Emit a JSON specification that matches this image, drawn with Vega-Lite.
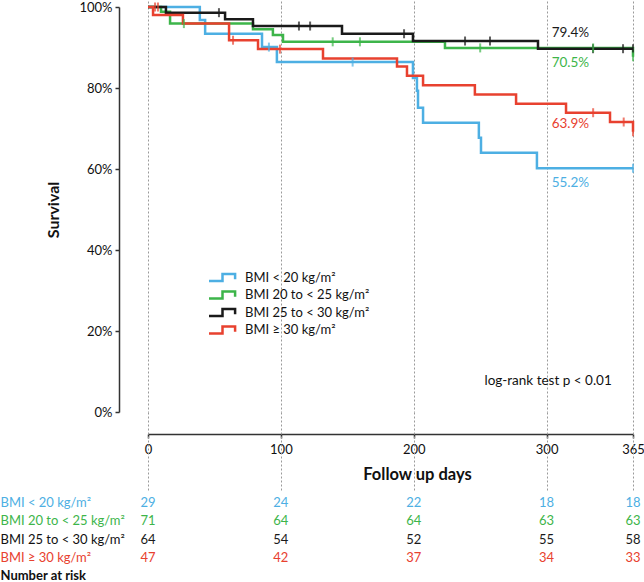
{
  "$schema": "https://vega.github.io/schema/vega-lite/v6.json",
  "padding": 0,
  "spacing": 2,
  "align": "each",
  "bounds": "full",
  "config": {
    "font": "Lato",
    "view": {"stroke": null},
    "axis": {"labelColor": "#111", "titleColor": "#111", "labelFont": "Lato", "titleFont": "Lato"},
    "text": {"font": "Lato"}
  },
  "datasets": {
    "curves": [
      {"group": "BMI < 20 kg/m²", "day": 0, "s": 1.0},
      {"group": "BMI < 20 kg/m²", "day": 39, "s": 0.968},
      {"group": "BMI < 20 kg/m²", "day": 43, "s": 0.934},
      {"group": "BMI < 20 kg/m²", "day": 85.8, "s": 0.901},
      {"group": "BMI < 20 kg/m²", "day": 97, "s": 0.864},
      {"group": "BMI < 20 kg/m²", "day": 199.4, "s": 0.825},
      {"group": "BMI < 20 kg/m²", "day": 202.4, "s": 0.793},
      {"group": "BMI < 20 kg/m²", "day": 203.2, "s": 0.751},
      {"group": "BMI < 20 kg/m²", "day": 207, "s": 0.714},
      {"group": "BMI < 20 kg/m²", "day": 249, "s": 0.677},
      {"group": "BMI < 20 kg/m²", "day": 250.6, "s": 0.64},
      {"group": "BMI < 20 kg/m²", "day": 292.7, "s": 0.602},
      {"group": "BMI < 20 kg/m²", "day": 365, "s": 0.602},
      {"group": "BMI 20 to < 25 kg/m²", "day": 0, "s": 1.0},
      {"group": "BMI 20 to < 25 kg/m²", "day": 9.8, "s": 0.988},
      {"group": "BMI 20 to < 25 kg/m²", "day": 16.6, "s": 0.959},
      {"group": "BMI 20 to < 25 kg/m²", "day": 79, "s": 0.945},
      {"group": "BMI 20 to < 25 kg/m²", "day": 94, "s": 0.931},
      {"group": "BMI 20 to < 25 kg/m²", "day": 101.6, "s": 0.914},
      {"group": "BMI 20 to < 25 kg/m²", "day": 223.5, "s": 0.899},
      {"group": "BMI 20 to < 25 kg/m²", "day": 365, "s": 0.899},
      {"group": "BMI 20 to < 25 kg/m²", "day": 365, "s": 0.877},
      {"group": "BMI 25 to < 30 kg/m²", "day": 0, "s": 1.0},
      {"group": "BMI 25 to < 30 kg/m²", "day": 13.5, "s": 0.986},
      {"group": "BMI 25 to < 30 kg/m²", "day": 58, "s": 0.97},
      {"group": "BMI 25 to < 30 kg/m²", "day": 79, "s": 0.953},
      {"group": "BMI 25 to < 30 kg/m²", "day": 146, "s": 0.934},
      {"group": "BMI 25 to < 30 kg/m²", "day": 199.4, "s": 0.916},
      {"group": "BMI 25 to < 30 kg/m²", "day": 293.5, "s": 0.897},
      {"group": "BMI 25 to < 30 kg/m²", "day": 365, "s": 0.897},
      {"group": "BMI ≥ 30 kg/m²", "day": 0, "s": 1.0},
      {"group": "BMI ≥ 30 kg/m²", "day": 3.8, "s": 0.98},
      {"group": "BMI ≥ 30 kg/m²", "day": 26.3, "s": 0.959},
      {"group": "BMI ≥ 30 kg/m²", "day": 61, "s": 0.918},
      {"group": "BMI ≥ 30 kg/m²", "day": 82.8, "s": 0.896},
      {"group": "BMI ≥ 30 kg/m²", "day": 131.7, "s": 0.873},
      {"group": "BMI ≥ 30 kg/m²", "day": 187.4, "s": 0.853},
      {"group": "BMI ≥ 30 kg/m²", "day": 194.9, "s": 0.83},
      {"group": "BMI ≥ 30 kg/m²", "day": 207, "s": 0.807},
      {"group": "BMI ≥ 30 kg/m²", "day": 246, "s": 0.784},
      {"group": "BMI ≥ 30 kg/m²", "day": 277, "s": 0.761},
      {"group": "BMI ≥ 30 kg/m²", "day": 314.6, "s": 0.739},
      {"group": "BMI ≥ 30 kg/m²", "day": 347.7, "s": 0.716},
      {"group": "BMI ≥ 30 kg/m²", "day": 365, "s": 0.716},
      {"group": "BMI ≥ 30 kg/m²", "day": 365, "s": 0.692}
    ],
    "censor": [
      {"group": "BMI 25 to < 30 kg/m²", "day": 53.4, "s": 0.986},
      {"group": "BMI 25 to < 30 kg/m²", "day": 113.6, "s": 0.953},
      {"group": "BMI 25 to < 30 kg/m²", "day": 122, "s": 0.953},
      {"group": "BMI 25 to < 30 kg/m²", "day": 192.7, "s": 0.934},
      {"group": "BMI 25 to < 30 kg/m²", "day": 238.6, "s": 0.916},
      {"group": "BMI 25 to < 30 kg/m²", "day": 257.4, "s": 0.916},
      {"group": "BMI 25 to < 30 kg/m²", "day": 334.9, "s": 0.897},
      {"group": "BMI 25 to < 30 kg/m²", "day": 357.5, "s": 0.897},
      {"group": "BMI 25 to < 30 kg/m²", "day": 365, "s": 0.897},
      {"group": "BMI 20 to < 25 kg/m²", "day": 27, "s": 0.959},
      {"group": "BMI 20 to < 25 kg/m²", "day": 139, "s": 0.914},
      {"group": "BMI 20 to < 25 kg/m²", "day": 159.5, "s": 0.914},
      {"group": "BMI 20 to < 25 kg/m²", "day": 250, "s": 0.899},
      {"group": "BMI 20 to < 25 kg/m²", "day": 335, "s": 0.899},
      {"group": "BMI 20 to < 25 kg/m²", "day": 365, "s": 0.877},
      {"group": "BMI ≥ 30 kg/m²", "day": 5.3, "s": 1.0},
      {"group": "BMI ≥ 30 kg/m²", "day": 7.5, "s": 1.0},
      {"group": "BMI ≥ 30 kg/m²", "day": 64, "s": 0.918},
      {"group": "BMI ≥ 30 kg/m²", "day": 99.3, "s": 0.896},
      {"group": "BMI ≥ 30 kg/m²", "day": 335, "s": 0.739},
      {"group": "BMI ≥ 30 kg/m²", "day": 358, "s": 0.716},
      {"group": "BMI ≥ 30 kg/m²", "day": 365, "s": 0.692},
      {"group": "BMI < 20 kg/m²", "day": 91, "s": 0.901},
      {"group": "BMI < 20 kg/m²", "day": 154, "s": 0.864},
      {"group": "BMI < 20 kg/m²", "day": 365, "s": 0.602}
    ],
    "labels": [
      {"group": "BMI 25 to < 30 kg/m²", "day": 300, "s": 0.936, "label": "79.4%"},
      {"group": "BMI 20 to < 25 kg/m²", "day": 300, "s": 0.862, "label": "70.5%"},
      {"group": "BMI ≥ 30 kg/m²", "day": 300, "s": 0.711, "label": "63.9%"},
      {"group": "BMI < 20 kg/m²", "day": 300, "s": 0.565, "label": "55.2%"}
    ],
    "risk": [
      {"group": "BMI < 20 kg/m²", "day": 0, "n": 29},
      {"group": "BMI < 20 kg/m²", "day": 100, "n": 24},
      {"group": "BMI < 20 kg/m²", "day": 200, "n": 22},
      {"group": "BMI < 20 kg/m²", "day": 300, "n": 18},
      {"group": "BMI < 20 kg/m²", "day": 365, "n": 18},
      {"group": "BMI 20 to < 25 kg/m²", "day": 0, "n": 71},
      {"group": "BMI 20 to < 25 kg/m²", "day": 100, "n": 64},
      {"group": "BMI 20 to < 25 kg/m²", "day": 200, "n": 64},
      {"group": "BMI 20 to < 25 kg/m²", "day": 300, "n": 63},
      {"group": "BMI 20 to < 25 kg/m²", "day": 365, "n": 63},
      {"group": "BMI 25 to < 30 kg/m²", "day": 0, "n": 64},
      {"group": "BMI 25 to < 30 kg/m²", "day": 100, "n": 54},
      {"group": "BMI 25 to < 30 kg/m²", "day": 200, "n": 52},
      {"group": "BMI 25 to < 30 kg/m²", "day": 300, "n": 55},
      {"group": "BMI 25 to < 30 kg/m²", "day": 365, "n": 58},
      {"group": "BMI ≥ 30 kg/m²", "day": 0, "n": 47},
      {"group": "BMI ≥ 30 kg/m²", "day": 100, "n": 42},
      {"group": "BMI ≥ 30 kg/m²", "day": 200, "n": 37},
      {"group": "BMI ≥ 30 kg/m²", "day": 300, "n": 34},
      {"group": "BMI ≥ 30 kg/m²", "day": 365, "n": 33}
    ]
  },
  "vconcat": [
    {
      "width": 485,
      "height": 405,
      "resolve": {"axis": {"x": "independent"}, "legend": {"color": "independent"}},
      "layer": [
        {
          "data": {"name": "curves"},
          "mark": {"type": "line", "interpolate": "step-after", "strokeWidth": 2.5},
          "encoding": {
            "x": {"field": "day", "type": "quantitative",
              "scale": {"domain": [0, 365], "nice": false, "zero": false},
              "axis": {"orient": "bottom", "offset": 22, "values": [0, 100, 200, 300, 365],
                "domainColor": "#333", "domainWidth": 1.5, "tickColor": "#333", "tickWidth": 1.5, "tickSize": 4,
                "labelFontSize": 13, "labelPadding": 5, "labelFlush": false,
                "grid": true, "gridDash": [2, 2], "gridColor": "#9a9a9a", "gridWidth": 1,
                "title": "Follow up days", "titleFontSize": 16.5, "titleFontWeight": "bold",
                "titleX": 269, "titlePadding": 10}},
            "y": {"field": "s", "type": "quantitative",
              "scale": {"domain": [0, 1], "nice": false},
              "axis": {"orient": "left", "offset": 29, "values": [0, 0.2, 0.4, 0.6, 0.8, 1], "format": ".0%",
                "domainColor": "#333", "domainWidth": 1.5, "tickColor": "#333", "tickWidth": 1.5, "tickSize": 4,
                "labelFontSize": 13, "labelPadding": 3, "grid": false,
                "title": "Survival", "titleFontSize": 16, "titleFontWeight": "bold", "titlePadding": 17}},
            "color": {"field": "group", "type": "nominal",
              "scale": {"domain": ["BMI < 20 kg/m²", "BMI 20 to < 25 kg/m²", "BMI 25 to < 30 kg/m²", "BMI ≥ 30 kg/m²"],
                "range": ["#4DAFE3", "#3DB54A", "#1a1a1a", "#E8412F"]},
              "legend": {"orient": "none", "legendX": 68, "legendY": 264, "title": null, "padding": 0,
                "symbolType": "M-3,0.8H0V-0.8H2.8V0.4", "symbolSize": 81, "symbolStrokeWidth": 2.5,
                "symbolFillColor": "transparent",
                "labelFontSize": 13, "labelOffset": 16, "rowPadding": -1.5, "labelColor": "#111"}},
            "order": [{"field": "day", "type": "quantitative"}, {"field": "s", "type": "quantitative", "sort": "descending"}]
          }
        },
        {
          "data": {"name": "censor"},
          "mark": {"type": "tick", "orient": "vertical", "size": 9, "thickness": 2},
          "encoding": {
            "x": {"field": "day", "type": "quantitative",
              "axis": {"orient": "bottom", "offset": 0, "values": [0, 100, 200, 300, 365],
                "domain": false, "labels": false, "grid": false, "title": null,
                "ticks": true, "tickSize": 79, "tickDash": [2, 2], "tickColor": "#9a9a9a", "tickWidth": 1}},
            "y": {"field": "s", "type": "quantitative",
              "axis": {"orient": "left", "offset": 29, "values": [0, 0.2, 0.4, 0.6, 0.8, 1], "format": ".0%",
                "domainColor": "#333", "domainWidth": 1.5, "tickColor": "#333", "tickWidth": 1.5, "tickSize": 4,
                "labelFontSize": 13, "labelPadding": 3, "grid": false,
                "title": "Survival", "titleFontSize": 16, "titleFontWeight": "bold", "titlePadding": 17}},
            "color": {"field": "group", "type": "nominal", "legend": null}
          }
        },
        {
          "data": {"name": "labels"},
          "mark": {"type": "text", "align": "left", "dx": 5, "fontSize": 13.5},
          "encoding": {
            "x": {"field": "day", "type": "quantitative",
              "axis": {"orient": "top", "values": [0, 100, 200, 300, 365],
                "domain": false, "labels": false, "grid": false, "title": null,
                "ticks": true, "tickSize": 6, "tickDash": [2, 2], "tickColor": "#9a9a9a", "tickWidth": 1}},
            "y": {"field": "s", "type": "quantitative",
              "axis": {"orient": "left", "offset": 29, "values": [0, 0.2, 0.4, 0.6, 0.8, 1], "format": ".0%",
                "domainColor": "#333", "domainWidth": 1.5, "tickColor": "#333", "tickWidth": 1.5, "tickSize": 4,
                "labelFontSize": 13, "labelPadding": 3, "grid": false,
                "title": "Survival", "titleFontSize": 16, "titleFontWeight": "bold", "titlePadding": 17}},
            "text": {"field": "label"},
            "color": {"field": "group", "type": "nominal", "legend": null}
          }
        },
        {
          "data": {"values": [{"note": "log-rank test p < 0.01", "day": 349, "s": 0.077}]},
          "mark": {"type": "text", "align": "right", "fontSize": 13.5, "color": "#111"},
          "encoding": {
            "x": {"field": "day", "type": "quantitative", "axis": null},
            "y": {"field": "s", "type": "quantitative",
              "axis": {"orient": "left", "offset": 29, "values": [0, 0.2, 0.4, 0.6, 0.8, 1], "format": ".0%",
                "domainColor": "#333", "domainWidth": 1.5, "tickColor": "#333", "tickWidth": 1.5, "tickSize": 4,
                "labelFontSize": 13, "labelPadding": 3, "grid": false,
                "title": "Survival", "titleFontSize": 16, "titleFontWeight": "bold", "titlePadding": 17}},
            "text": {"field": "note"}
          }
        }
      ]
    },
    {
      "width": 485,
      "height": 91,
      "data": {"name": "risk"},
      "mark": {"type": "text", "fontSize": 13},
      "encoding": {
        "x": {"field": "day", "type": "quantitative", "scale": {"domain": [0, 365], "nice": false, "zero": false}, "axis": null},
        "y": {"field": "group", "type": "nominal",
          "scale": {"type": "band", "domain": ["BMI < 20 kg/m²", "BMI 20 to < 25 kg/m²", "BMI 25 to < 30 kg/m²", "BMI ≥ 30 kg/m²", "Number at risk"], "paddingInner": 0, "paddingOuter": 0},
          "axis": {"orient": "left", "domain": false, "ticks": false, "grid": false, "title": null,
            "labelAlign": "left", "labelPadding": 148, "labelFontSize": 13,
            "labelColor": {"condition": [
              {"test": "datum.value === 'BMI < 20 kg/m²'", "value": "#4DAFE3"},
              {"test": "datum.value === 'BMI 20 to < 25 kg/m²'", "value": "#3DB54A"},
              {"test": "datum.value === 'BMI ≥ 30 kg/m²'", "value": "#E8412F"}
            ], "value": "#111"},
            "labelFontWeight": {"condition": {"test": "datum.value === 'Number at risk'", "value": "bold"}, "value": "normal"}}},
        "text": {"field": "n"},
        "color": {"field": "group", "type": "nominal",
          "scale": {"domain": ["BMI < 20 kg/m²", "BMI 20 to < 25 kg/m²", "BMI 25 to < 30 kg/m²", "BMI ≥ 30 kg/m²"],
            "range": ["#4DAFE3", "#3DB54A", "#1a1a1a", "#E8412F"]},
          "legend": null}
      }
    }
  ]
}
